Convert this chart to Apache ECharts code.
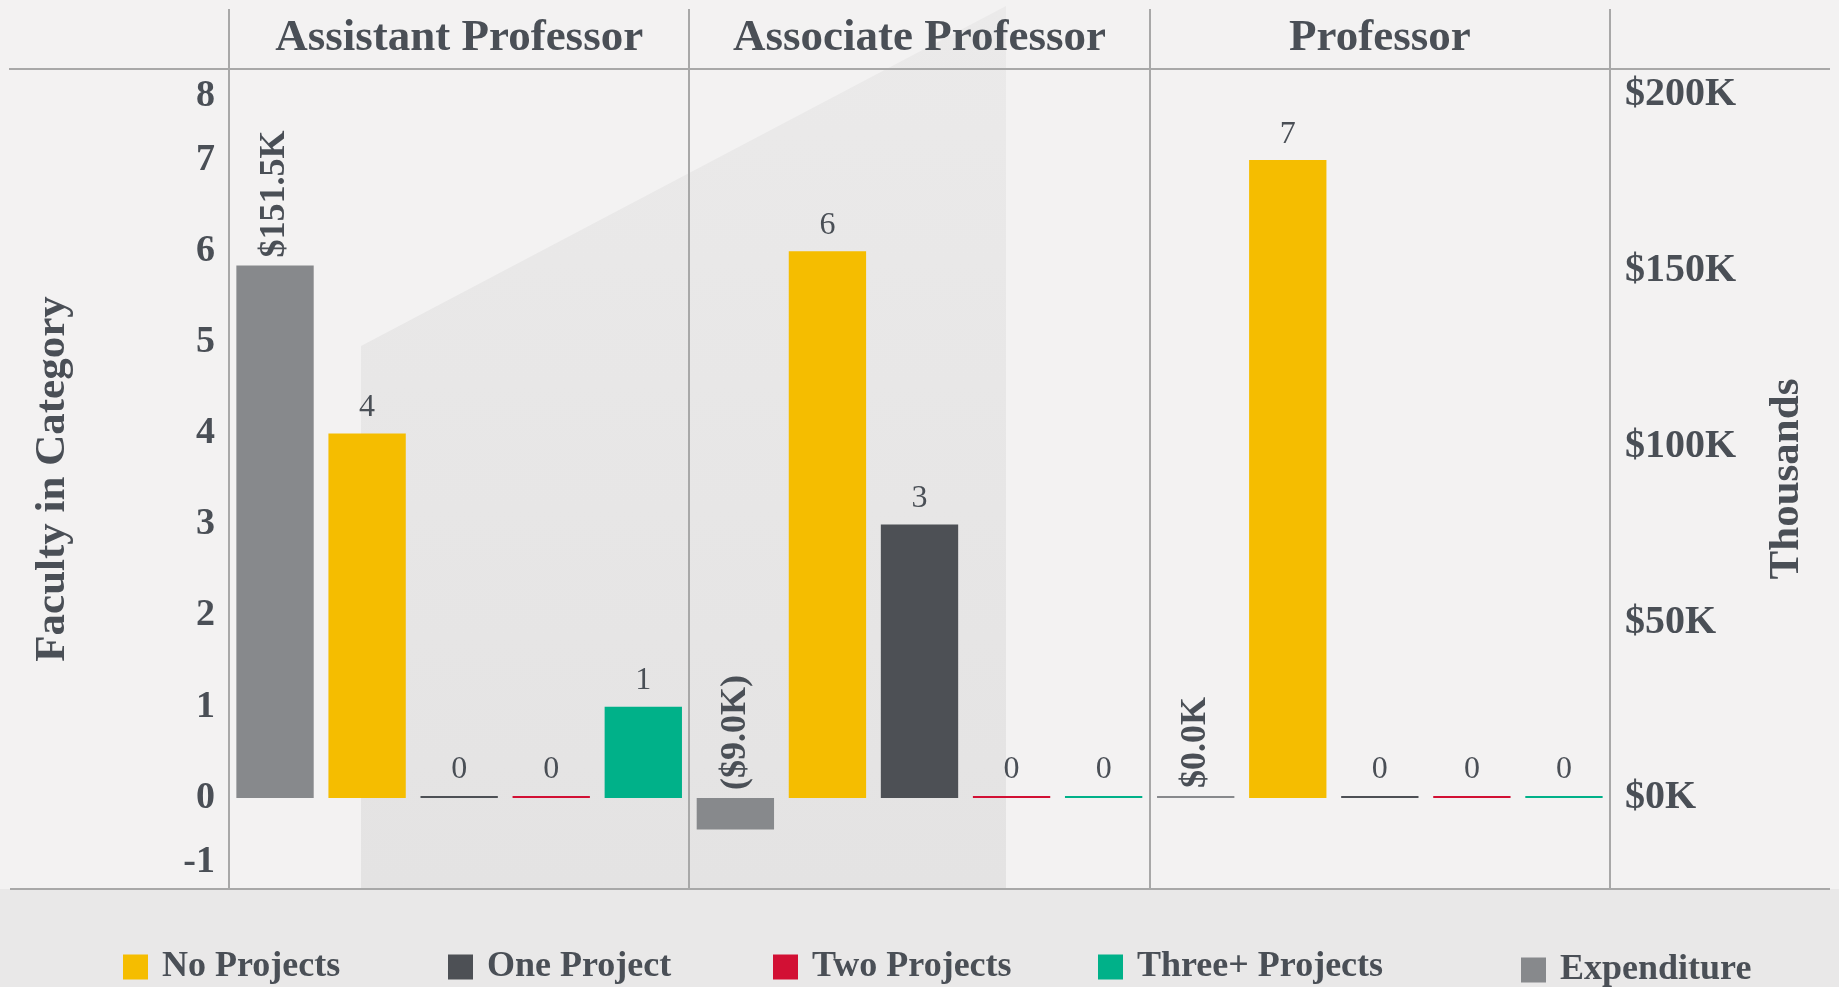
<!DOCTYPE html>
<html><head><meta charset="utf-8">
<script src="https://cdn.jsdelivr.net/npm/echarts@6/dist/echarts.min.js"></script>
<style>html,body{margin:0;padding:0;background:#f3f2f2}#c{width:1839px;height:987px}</style>
</head><body><div id="c"></div>
<script>
// ---- data ----
const categories = ['Assistant Professor', 'Associate Professor', 'Professor'];
const seriesNames = ['No Projects', 'One Project', 'Two Projects', 'Three+ Projects'];
const noProjects = [4, 6, 7];
const oneProject = [0, 3, 0];
const twoProjects = [0, 0, 0];
const threeProjects = [1, 0, 0];
const expenditure = [151.5, -9.0, 0.0]; // thousands of $
const leftTicks = [-1, 0, 1, 2, 3, 4, 5, 6, 7, 8];
const rightTickLabels = [0, 50, 100, 150, 200];

// ---- layout / style ----
const W = 1839, H = 987;
const G = { left: 229, right: 229, top: 69, bottom: 98 };
const gw = W - G.left - G.right, panelW = gw / categories.length;
const gridBottomY = H - G.bottom;
const unitK = 25.93; // thousands per left-axis unit
const colors = { 'No Projects': '#F5BD00', 'One Project': '#4D5055', 'Two Projects': '#D21034', 'Three+ Projects': '#00B189', 'Expenditure': '#87898C' };
const txt = '#4a4f56';
const FF = '"Liberation Serif", "Times New Roman", serif';

const slotNames = ['Expenditure'].concat(seriesNames);
const slots = [];
categories.forEach(c => slotNames.forEach(s => slots.push(c + ' | ' + s)));
function spread(arr, k) {
  const out = [];
  categories.forEach((c, p) => slotNames.forEach((s, j) => out.push(j === k ? arr[p] : '-')));
  return out;
}
const countArrays = [noProjects, oneProject, twoProjects, threeProjects];
const lmin = leftTicks[0], lmax = leftTicks[leftTicks.length - 1];

const commonBar = { type: 'bar', barWidth: '84%', barGap: '-100%', barMinHeight: 2, xAxisIndex: 0 };
const series = [];
seriesNames.forEach((n, i) => {
  series.push(Object.assign({}, commonBar, {
    name: n, yAxisIndex: 0, data: spread(countArrays[i], i + 1),
    itemStyle: { color: colors[n] },
    label: { show: true, position: 'top', distance: 10, fontSize: 32, fontFamily: FF, color: txt }
  }));
});
series.push(Object.assign({}, commonBar, {
  name: 'Expenditure', yAxisIndex: 1, data: spread(expenditure, 0),
  itemStyle: { color: colors['Expenditure'] },
  label: {
    show: true, position: 'top', distance: 8, rotate: 90, align: 'left', verticalAlign: 'middle',
    fontSize: 36, fontWeight: 'bold', fontFamily: FF, color: txt,
    formatter: p => p.value < 0 ? '($' + Math.abs(p.value).toFixed(1) + 'K)' : '$' + p.value.toFixed(1) + 'K'
  }
}));

const lineStyle = { stroke: '#a8a8a8', lineWidth: 2 };
const graphics = [
  { type: 'rect', z: 0, shape: { x: 0, y: gridBottomY, width: W, height: H - gridBottomY }, style: { fill: '#e9e8e8' } },
  { type: 'polygon', z: 0, shape: { points: [[361, 346], [1006, 6], [1006, gridBottomY], [361, gridBottomY]] },
    style: { fill: { type: 'linear', x: 0, y: 0, x2: 0, y2: 1, colorStops: [{ offset: 0, color: '#ebeaea' }, { offset: 1, color: '#e4e3e3' }] } } },
  { type: 'line', z: 1, shape: { x1: 9, y1: G.top, x2: 1830, y2: G.top }, style: lineStyle },
  { type: 'line', z: 1, shape: { x1: 10, y1: gridBottomY, x2: 1830, y2: gridBottomY }, style: lineStyle }
];
for (let k = 0; k <= categories.length; k++) {
  const x = Math.round(G.left + k * panelW);
  graphics.push({ type: 'line', z: 1, shape: { x1: x, y1: 9, x2: x, y2: gridBottomY }, style: lineStyle });
}

const legendText = { fontSize: 36, fontWeight: 'bold', fontFamily: FF, color: txt, padding: [0, 0, 0, 9] };
const legendNames = seriesNames.concat(['Expenditure']);
const legendLeft = [123, 448, 773, 1098, 1521];
const legendTop = [949, 949, 949, 949, 952];
const legends = legendNames.map((n, i) => ({
  data: [n], left: legendLeft[i], top: legendTop[i], padding: 0, itemWidth: 25, itemHeight: 25,
  icon: 'rect', textStyle: legendText
}));

const lblBase = { fontSize: 38, fontWeight: 'bold', fontFamily: FF, color: txt };
const option = {
  backgroundColor: '#f3f2f2',
  animation: false,
  graphic: { elements: graphics },
  grid: G,
  xAxis: [
    { type: 'category', data: slots, axisLine: { show: false }, axisTick: { show: false }, axisLabel: { show: false }, splitLine: { show: false } },
    { type: 'category', data: categories, position: 'top', axisLine: { show: false }, axisTick: { show: false }, splitLine: { show: false },
      axisLabel: { interval: 0, hideOverlap: false, margin: 8, fontSize: 45, fontWeight: 'bold', fontFamily: FF, color: txt } }
  ],
  yAxis: [
    { type: 'value', min: lmin, max: lmax, interval: 1, position: 'left',
      axisLine: { show: false }, axisTick: { show: false }, splitLine: { show: false },
      name: 'Faculty in Category', nameLocation: 'middle', nameGap: 155, nameRotate: 90,
      nameTextStyle: { fontSize: 43, fontWeight: 'bold', fontFamily: FF, color: txt },
      axisLabel: {
        margin: 14,
        formatter: v => v === lmax ? '{dn|' + v + '}' : (v === lmin ? '{up|' + v + '}' : '{n|' + v + '}'),
        rich: {
          n: lblBase,
          dn: Object.assign({}, lblBase, { padding: [54, 0, 0, 0] }),
          up: Object.assign({}, lblBase, { padding: [0, 0, 54, 0] })
        }
      }
    },
    { type: 'value', min: lmin * unitK, max: lmax * unitK, position: 'right',
      axisLine: { show: false }, axisTick: { show: false }, splitLine: { show: false },
      name: 'Thousands', nameLocation: 'middle', nameGap: 155, nameRotate: 90,
      nameTextStyle: { fontSize: 43, fontWeight: 'bold', fontFamily: FF, color: txt },
      axisLabel: { margin: 15, customValues: rightTickLabels, formatter: v => '$' + v + 'K',
        fontSize: 40, fontWeight: 'bold', fontFamily: FF, color: txt }
    }
  ],
  legend: legends,
  series: series
};
const chart = echarts.init(document.getElementById('c'), null, { renderer: 'canvas' });
chart.setOption(option);
</script></body></html>
